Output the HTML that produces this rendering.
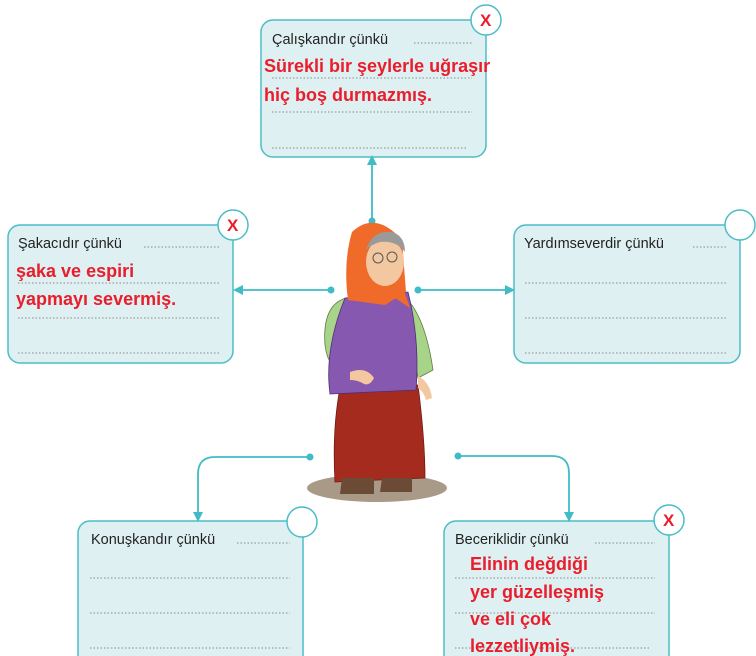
<!DOCTYPE html>
<html><head><meta charset="utf-8"><style>
body{margin:0;background:#fff;width:756px;height:656px;overflow:hidden}
svg{display:block}
.lbl{font-family:"Liberation Sans",sans-serif;font-size:14.5px;fill:#222}
.red{font-family:"Liberation Sans",sans-serif;font-size:18px;font-weight:bold;fill:#ea1d2c}
.x{font-family:"Liberation Sans",sans-serif;font-size:17px;font-weight:bold;fill:#ea1d2c}
.dl{stroke:#8a8a8a;stroke-width:1;stroke-dasharray:1.5 2}
</style></head><body>
<svg width="756" height="656" viewBox="0 0 756 656">
<defs><marker id="a" markerWidth="10" markerHeight="10" refX="5" refY="5" orient="auto-start-reverse" markerUnits="userSpaceOnUse"><path d="M0,0 L10,5 L0,10 Z" fill="#3fbcc6"/></marker></defs>
<g fill="#dff0f2" stroke="#4bbdc6" stroke-width="1.5">
<rect x="261" y="20" width="225" height="137" rx="12"/>
<rect x="8" y="225" width="225" height="138" rx="12"/>
<rect x="514" y="225" width="226" height="138" rx="12"/>
<rect x="78" y="521" width="225" height="150" rx="12"/>
<rect x="444" y="521" width="225" height="150" rx="12"/>
</g>
<g fill="#fff" stroke="#4bbdc6" stroke-width="1.5">
<circle cx="486" cy="20" r="15"/><circle cx="233" cy="225" r="15"/><circle cx="740" cy="225" r="15"/><circle cx="302" cy="522" r="15"/><circle cx="669" cy="520" r="15"/>
</g>
<text class="x" x="480" y="26">X</text><text class="x" x="227" y="231">X</text><text class="x" x="663" y="526">X</text>
<g fill="none" stroke="#3fbcc6" stroke-width="1.8">
<line x1="372" y1="220" x2="372" y2="160" marker-end="url(#a)"/>
<line x1="331" y1="290" x2="238" y2="290" marker-end="url(#a)"/>
<line x1="418" y1="290" x2="510" y2="290" marker-end="url(#a)"/>
<path d="M310,457 H215 Q198,457 198,474 V517" marker-end="url(#a)"/>
<path d="M458,456 H552 Q569,456 569,473 V517" marker-end="url(#a)"/>
</g>
<g fill="#3fbcc6"><circle cx="372" cy="221" r="3.5"/><circle cx="331" cy="290" r="3.5"/><circle cx="418" cy="290" r="3.5"/><circle cx="310" cy="457" r="3.5"/><circle cx="458" cy="456" r="3.5"/></g>
<g class="dl">
<line x1="414" y1="43" x2="472" y2="43"/><line x1="272" y1="78" x2="472" y2="78"/><line x1="272" y1="112" x2="472" y2="112"/><line x1="272" y1="148" x2="467" y2="148"/>
<line x1="144" y1="247" x2="220" y2="247"/><line x1="18" y1="283" x2="220" y2="283"/><line x1="18" y1="318" x2="220" y2="318"/><line x1="18" y1="353" x2="220" y2="353"/>
<line x1="693" y1="247" x2="728" y2="247"/><line x1="525" y1="283" x2="728" y2="283"/><line x1="525" y1="318" x2="728" y2="318"/><line x1="525" y1="353" x2="728" y2="353"/>
<line x1="237" y1="543" x2="290" y2="543"/><line x1="90" y1="578" x2="290" y2="578"/><line x1="90" y1="613" x2="290" y2="613"/><line x1="90" y1="648" x2="290" y2="648"/>
<line x1="595" y1="543" x2="655" y2="543"/><line x1="455" y1="578" x2="655" y2="578"/><line x1="455" y1="613" x2="655" y2="613"/><line x1="455" y1="648" x2="650" y2="648"/>
</g>
<text class="lbl" x="272" y="44">Çalışkandır çünkü</text>
<text class="lbl" x="18" y="248">Şakacıdır çünkü</text>
<text class="lbl" x="524" y="248">Yardımseverdir çünkü</text>
<text class="lbl" x="91" y="544">Konuşkandır çünkü</text>
<text class="lbl" x="455" y="544">Beceriklidir çünkü</text>
<text class="red" x="264" y="72">Sürekli bir şeylerle uğraşır</text>
<text class="red" x="264" y="101">hiç boş durmazmış.</text>
<text class="red" x="16" y="277">şaka ve espiri</text>
<text class="red" x="16" y="305">yapmayı severmiş.</text>
<text class="red" x="470" y="570">Elinin değdiği</text>
<text class="red" x="470" y="598">yer güzelleşmiş</text>
<text class="red" x="470" y="625">ve eli çok</text>
<text class="red" x="470" y="652">lezzetliymiş.</text>
<!-- woman -->
<ellipse cx="377" cy="488" rx="70" ry="14" fill="#a99a88"/>
<path d="M340,388 L418,385 Q425,440 425,478 L335,482 Q332,430 340,388Z" fill="#a52b1e" stroke="#6e1d14" stroke-width="0.8"/>
<path d="M342,478 h32 v16 h-34Z M382,478 h30 v14 h-32Z" fill="#6b4a36"/>
<path d="M346,298 Q322,305 325,345 Q328,372 352,378 L356,330Z" fill="#a8d48a" stroke="#5c7a40" stroke-width="0.8"/>
<path d="M404,296 Q425,315 433,370 L418,378 L410,330Z" fill="#a8d48a" stroke="#5c7a40" stroke-width="0.8"/>
<path d="M345,298 L408,292 Q420,340 416,390 L330,394 Q324,350 345,298Z" fill="#8658b0" stroke="#4e2e78" stroke-width="0.8"/>
<path d="M352,232 Q375,210 402,240 L406,292 L385,305 L348,300 Q343,262 352,232Z" fill="#f06a2a"/>
<ellipse cx="385" cy="262" rx="19" ry="24" fill="#f3c8a0"/>
<path d="M366,250 Q372,230 392,232 Q405,236 405,252 Q396,240 380,242 Q370,245 366,250Z" fill="#9a9a9a"/>
<circle cx="378" cy="258" r="5" fill="none" stroke="#555" stroke-width="1"/><circle cx="392" cy="257" r="5" fill="none" stroke="#555" stroke-width="1"/>
<path d="M375,292 L402,285 L410,308 L395,298Z" fill="#f06a2a"/>
<path d="M350,372 q16,-6 24,6 q-4,8 -10,6 q-6,-4 -14,-4Z" fill="#f3c8a0"/>
<path d="M418,376 q12,6 14,22 l-6,2 q-2,-8 -8,-12Z" fill="#f3c8a0"/>
</svg>
</body></html>
